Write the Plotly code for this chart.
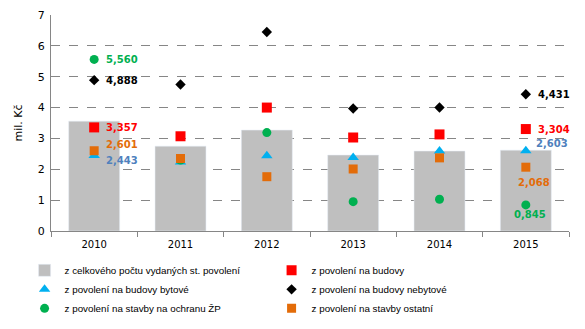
import plotly.graph_objects as go

years = ["2010", "2011", "2012", "2013", "2014", "2015"]
celkem = [3.56, 2.75, 3.27, 2.46, 2.59, 2.62]
budovy = [3.357, 3.07, 4.00, 3.03, 3.13, 3.304]
bytove = [2.443, 2.24, 2.44, 2.38, 2.59, 2.603]
nebytove = [4.888, 4.75, 6.45, 3.97, 4.00, 4.431]
ochrana = [5.560, 2.30, 3.19, 0.95, 1.03, 0.845]
ostatni = [2.601, 2.35, 1.76, 2.01, 2.37, 2.068]

names = [
    "z celkového počtu vydaných st. povolení",
    "z povolení na budovy",
    "z povolení na budovy bytové",
    "z povolení na budovy nebytové",
    "z povolení na stavby na ochranu ŽP",
    "z povolení na stavby ostatní",
]

FONT = "DejaVu Sans"
LFONT = "Liberation Sans"
fig = go.Figure()
fig.add_trace(go.Bar(x=years, y=celkem, name=names[0], marker_color="#BFBFBF"))
fig.add_trace(go.Scatter(x=years, y=budovy, name=names[1], mode="markers",
                         marker=dict(symbol="square", size=10, color="#FF0000")))
fig.add_trace(go.Scatter(x=years, y=bytove, name=names[2], mode="markers",
                         marker=dict(symbol="triangle-up", size=10, color="#00B0F0")))
fig.add_trace(go.Scatter(x=years, y=nebytove, name=names[3], mode="markers",
                         marker=dict(symbol="diamond", size=8, color="#000000")))
fig.add_trace(go.Scatter(x=years, y=ochrana, name=names[4], mode="markers",
                         marker=dict(symbol="circle", size=9, color="#00B050")))
fig.add_trace(go.Scatter(x=years, y=ostatni, name=names[5], mode="markers",
                         marker=dict(symbol="square", size=9, color="#E36C09")))

def fmt(v):
    return f"{v:.3f}".replace(".", ",")

ann = []
for series, col, dy in [(ochrana, "#00B050", 0), (nebytove, "#000000", 0),
                        (budovy, "#FF0000", 0), (ostatni, "#E36C09", 6),
                        (bytove, "#4F81BD", -5)]:
    ann.append(dict(x=0, y=series[0], text=f"<b>{fmt(series[0])}</b>",
                    xanchor="left", yanchor="middle", xshift=10, yshift=dy,
                    showarrow=False, font=dict(color=col, size=10, family=FONT)))
ann.append(dict(x=5, y=nebytove[5], text=f"<b>{fmt(nebytove[5])}</b>",
                xanchor="left", yanchor="middle", xshift=10, showarrow=False,
                font=dict(color="#000000", size=10, family=FONT)))
ann.append(dict(x=5, y=budovy[5], text=f"<b>{fmt(budovy[5])}</b>",
                xanchor="left", yanchor="middle", xshift=10, showarrow=False,
                font=dict(color="#FF0000", size=10, family=FONT)))
ann.append(dict(x=5, y=bytove[5], text=f"<b>{fmt(bytove[5])}</b>",
                xanchor="left", yanchor="middle", xshift=8, yshift=7, showarrow=False,
                font=dict(color="#4F81BD", size=10, family=FONT)))
ann.append(dict(x=5, y=ostatni[5], text=f"<b>{fmt(ostatni[5])}</b>",
                xanchor="center", yanchor="middle", xshift=8, yshift=-15, showarrow=False,
                font=dict(color="#E36C09", size=10, family=FONT)))
ann.append(dict(x=5, y=ochrana[5], text=f"<b>{fmt(ochrana[5])}</b>",
                xanchor="center", yanchor="middle", xshift=4, yshift=-10, showarrow=False,
                font=dict(color="#00B050", size=10, family=FONT)))

fig.update_layout(
    width=585, height=329,
    margin=dict(l=51, r=16, t=15, b=98, autoexpand=False),
    paper_bgcolor="white", plot_bgcolor="white",
    font=dict(family=FONT, size=10, color="#000000"),
    annotations=ann,
    showlegend=True,
    legend=dict(orientation="h", x=-0.051, xanchor="left", y=-0.115, yanchor="top",
                entrywidth=202, entrywidthmode="pixels", itemwidth=30,
                font=dict(family=LFONT, size=9.8), traceorder="normal",
                tracegroupgap=0),
    bargap=0.41,
)
fig.update_xaxes(type="category", categoryorder="array", categoryarray=years,
                 range=[-0.5, 5.5], showline=True, linecolor="#868686", linewidth=1,
                 ticks="outside", tickson="boundaries", ticklen=5, tickcolor="#868686",
                 ticklabelstandoff=4,
                 tickfont=dict(size=10, family=FONT), showgrid=False)
fig.update_yaxes(range=[0, 7], dtick=1, showline=True, linecolor="#868686", linewidth=1,
                 showgrid=True, gridcolor="#868686", griddash="dash", gridwidth=1,
                 zeroline=False, tickfont=dict(size=11, family=FONT),
                 ticklabelstandoff=3,
                 title=dict(text="mil. Kč", font=dict(size=11, family=FONT), standoff=12))

fig.write_html("out.html")
